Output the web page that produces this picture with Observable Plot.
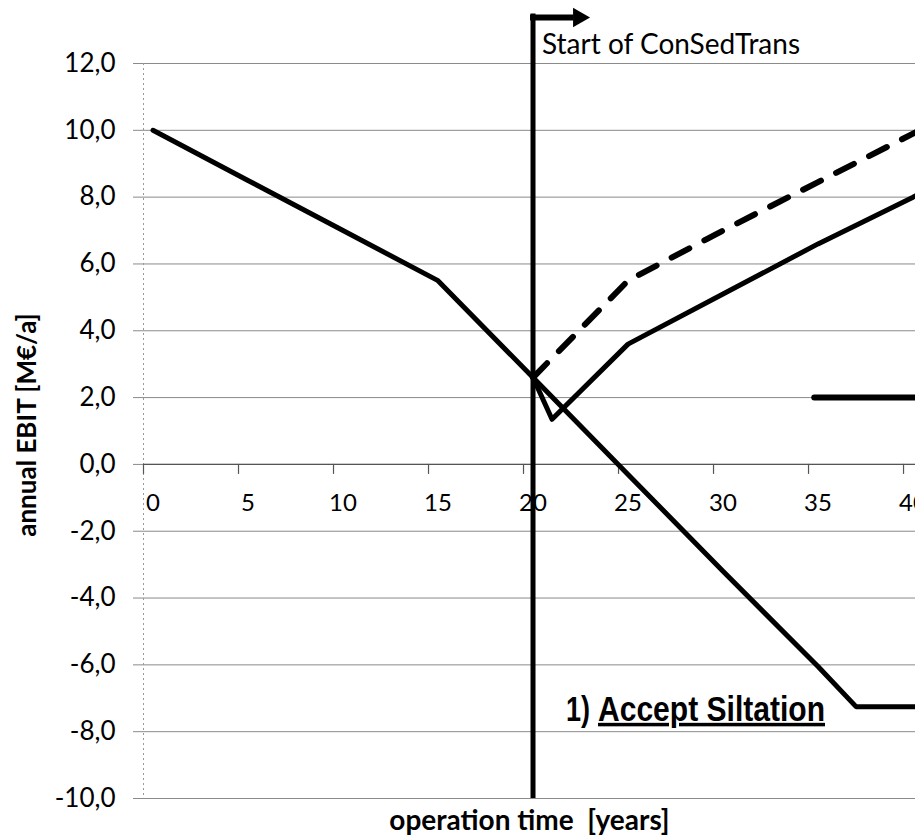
<!DOCTYPE html>
<html>
<head>
<meta charset="utf-8">
<script src="https://cdn.jsdelivr.net/npm/d3@7"></script>
<script src="https://cdn.jsdelivr.net/npm/@observablehq/plot@0.6"></script>
<style>
html, body { margin: 0; padding: 0; background: #fff; overflow: hidden; }
#chart svg { display: block; }
</style>
</head>
<body>
<div id="chart"></div>
<script>
// ---- data ----
const baseYears   = [0, 5, 10, 15, 20, 25, 30, 35, 37, 41];
const baseValues  = [10.0, 8.5, 7.0, 5.5, 2.6, -0.3, -3.2, -6.05, -7.25, -7.25];

const consedYears  = [20, 21, 25, 30, 35, 40, 41];
const consedValues = [2.6, 1.35, 3.6, 5.1, 6.6, 8.0, 8.3];

const dashedYears  = [20, 25, 30, 35, 40, 41];
const dashedValues = [2.6, 5.5, 7.0, 8.45, 9.9, 10.2];

const levelYears  = [34.8, 41];
const levelValues = [2.0, 2.0];

const xTickLabels = [0, 5, 10, 15, 20, 25, 30, 35, 40];
const yTicks = [-10, -8, -6, -4, -2, 0, 2, 4, 6, 8, 10, 12];

const startYear = 20;
const startLabel = "Start of ConSedTrans";
const siltNumber = "1)";
const siltLabel = "Accept Siltation";
const siltLevel = -7.25;
const xTitle = "operation time\u00a0 [years]";
const yTitle = "annual EBIT [M€/a]";

// ---- build tables ----
const toRows = (xs, ys) => xs.map((x, i) => ({year: x, value: ys[i]}));
const base = toRows(baseYears, baseValues);
const consed = toRows(consedYears, consedValues);
const dashed = toRows(dashedYears, dashedValues);
const level = toRows(levelYears, levelValues);

const fmt = d => d.toFixed(1).replace(".", ",");
const labelFont = "'Liberation Sans Narrow', 'Arial Narrow', 'Liberation Sans', Arial, sans-serif";

const chart = Plot.plot({
  width: 915,
  height: 837,
  marginLeft: 143,
  marginRight: 0,
  marginTop: 63,
  marginBottom: 39,
  style: {fontFamily: "Lato, 'Open Sans', sans-serif", fontSize: "26px", color: "#000", background: "#fff"},
  x: {domain: [-0.5, 40.13], axis: null},
  y: {domain: [-10, 12], ticks: yTicks, tickFormat: fmt, tickSize: 0, tickPadding: 28, label: null},
  marks: [
    // gridlines (extend 10px left as tick marks)
    Plot.ruleY(yTicks, {stroke: "#8a8a8a", strokeWidth: 1, insetLeft: -10}),
    // left axis line
    Plot.ruleX([-0.5], {stroke: "#999", strokeDasharray: "2,3"}),
    // horizontal axis at zero
    Plot.ruleY([0], {stroke: "#555", strokeWidth: 1.2}),
    Plot.ruleX(xTickLabels.map(d => d - 0.5), {y1: 0, y2: 0, insetBottom: -10, stroke: "#555", strokeWidth: 1.2}),
    Plot.text(xTickLabels, {x: d => d, y: 0, dy: 39, text: d => String(d), fontSize: 24, lineAnchor: "middle"}),
    // series
    Plot.line(base, {x: "year", y: "value", stroke: "#000", strokeWidth: 5, clip: true}),
    Plot.line(consed, {x: "year", y: "value", stroke: "#000", strokeWidth: 5, clip: true}),
    Plot.line(dashed, {x: "year", y: "value", stroke: "#000", strokeWidth: 6, strokeDasharray: "20,17", clip: true}),
    Plot.line(level, {x: "year", y: "value", stroke: "#000", strokeWidth: 6, clip: true}),
    // start marker
    Plot.ruleX([startYear], {y1: 12, y2: -10, insetTop: -49.5, stroke: "#000", strokeWidth: 5}),
    Plot.ruleY([12], {x1: startYear, x2: startYear, dy: -46, insetLeft: -2.5, insetRight: -41, stroke: "#000", strokeWidth: 6}),
    Plot.dot([startYear], {x: d => d, y: 12, dx: 45.7, dy: -46, symbol: "triangle", rotate: 90, r: 7.3, fill: "#000", stroke: null}),
    Plot.text([startLabel], {x: startYear, y: 12, dx: 9, dy: -18, text: d => d, textAnchor: "start", lineAnchor: "middle", fontSize: 28}),
    // scenario label
    Plot.text([siltNumber], {x: startYear, y: siltLevel, dx: 33, dy: 3, text: d => d, textAnchor: "start", lineAnchor: "middle",
      fontFamily: labelFont, fontWeight: "bold", fontSize: 35}),
    Plot.text([siltLabel], {x: startYear, y: siltLevel, dx: 65, dy: 3, text: d => d, textAnchor: "start", lineAnchor: "middle",
      fontFamily: labelFont, fontWeight: "bold", fontSize: 35}),
    // axis titles
    Plot.text([xTitle], {frameAnchor: "bottom", dy: 23, text: d => d, fontWeight: "bold", fontSize: 28, lineAnchor: "middle", textAnchor: "middle"}),
    Plot.text([yTitle], {frameAnchor: "left", dx: -116, dy: -6, rotate: -90, text: d => d, fontWeight: "bold", fontSize: 26, lineAnchor: "middle", textAnchor: "middle"})
  ]
});

document.getElementById("chart").appendChild(chart);

// condense the scenario label like the original narrow font, underline its name
d3.select(chart).selectAll("text").each(function() {
  if (this.textContent === siltNumber) {
    d3.select(this).attr("textLength", 24).attr("lengthAdjust", "spacingAndGlyphs");
  }
  if (this.textContent === siltLabel) {
    d3.select(this).attr("textLength", 227).attr("lengthAdjust", "spacingAndGlyphs")
      .attr("text-decoration", "underline").style("text-decoration", "underline");
  }
});
</script>
</body>
</html>
